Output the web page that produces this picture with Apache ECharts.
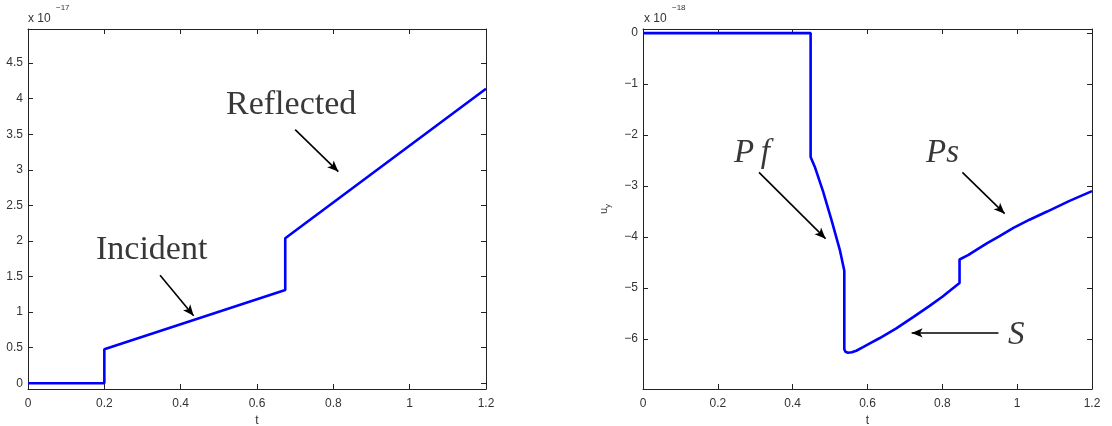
<!DOCTYPE html>
<html><head><meta charset="utf-8">
<script src="https://cdn.jsdelivr.net/npm/echarts@6/dist/echarts.min.js"></script>
<style>html,body{margin:0;padding:0;background:#fff}#c{width:1112px;height:426px}</style>
</head><body><div id="c"></div>
<script>
// ---- data ----
const xTicks = [0, 0.2, 0.4, 0.6, 0.8, 1, 1.2];
const leftYTicks = [0, 0.5, 1, 1.5, 2, 2.5, 3, 3.5, 4, 4.5];
const rightYTicks = [0, -1, -2, -3, -4, -5, -6];
const leftT = [0, 0.2, 0.2, 0.674, 0.674, 1.2];
const leftU = [0, 0, 0.48, 1.31, 2.04, 4.14];
const rightT = [0, 0.448, 0.448, 0.459, 0.481, 0.5035, 0.526, 0.538, 0.538, 0.541, 0.548, 0.558, 0.57, 0.588, 0.61, 0.633, 0.677, 0.722, 0.766, 0.8, 0.846, 0.846, 0.87, 0.891, 0.92, 0.953, 0.99, 1.033, 1.08, 1.14, 1.2];
const rightU = [0, 0, -2.43, -2.62, -3.1, -3.66, -4.25, -4.66, -6.2, -6.25, -6.27, -6.26, -6.23, -6.16, -6.07, -5.98, -5.79, -5.57, -5.35, -5.17, -4.9, -4.44, -4.35, -4.25, -4.12, -3.98, -3.82, -3.66, -3.5, -3.29, -3.1];
const leftExponent = '\u221217';
const rightExponent = '\u221218';
const xName = 't';
const rightYName = ['u', 'y'];
// annotations (data coordinates): [from, to]
const leftArrows = [[[0.346, 1.52], [0.434, 0.95]], [[0.70, 3.565], [0.813, 2.976]]];
const rightArrows = [[[0.31, -2.733], [0.488, -4.031]], [[0.8536, -2.733], [0.9666, -3.542]], [[0.95, -5.88], [0.718, -5.88]]];
const leftLabels = ['Incident', 'Reflected'];
const rightLabels = ['P\u2009f', 'Ps', 'S'];

// ---- chart ----
const AX = '#222';
const TXT = '#333';
const FONT = 'Liberation Sans';
const grids = [
  {left: 28, top: 29, width: 458, height: 360, outerBoundsMode: 'none', containLabel: false},
  {left: 643, top: 29, width: 449, height: 360, outerBoundsMode: 'none', containLabel: false}
];
const minus = v => (v < 0 ? '\u2212' + Math.abs(v) : String(v));

function xAxis(gi, pos) {
  const bottom = pos === 'bottom';
  return {
    type: 'value', gridIndex: gi, position: pos, min: 0, max: 1.2, interval: 0.2,
    axisLine: {show: true, onZero: false, lineStyle: {color: AX, width: 1}},
    axisTick: {show: true, inside: true, length: 5, customValues: xTicks, lineStyle: {color: AX}},
    axisLabel: {show: bottom, customValues: xTicks, color: TXT, fontFamily: FONT, fontSize: 12, margin: 9, formatter: v => minus(+(+v).toFixed(1))},
    splitLine: {show: false},
    name: bottom ? xName : '', nameLocation: 'middle', nameGap: 21,
    nameTextStyle: {color: TXT, fontFamily: FONT, fontSize: 12}
  };
}
function yAxis(gi, pos, min, max, ticks, name) {
  const left = pos === 'left';
  return {
    type: 'value', gridIndex: gi, position: pos, min: min, max: max,
    axisLine: {show: true, onZero: false, lineStyle: {color: AX, width: 1}},
    axisTick: {show: true, inside: true, length: 5, customValues: ticks, lineStyle: {color: AX}},
    axisLabel: {show: left, customValues: ticks, color: TXT, fontFamily: FONT, fontSize: 12, margin: 5, formatter: v => minus(v)},
    splitLine: {show: false},
    name: (left && name) ? '{u|' + name[0] + '}{s|' + name[1] + '}' : '',
    nameLocation: 'middle', nameRotate: 90, nameGap: 31,
    nameTextStyle: {color: TXT, fontFamily: FONT, rich: {
      u: {fontSize: 11, fontFamily: FONT, color: TXT, lineHeight: 14, verticalAlign: 'top'},
      s: {fontSize: 8, fontFamily: FONT, color: TXT, lineHeight: 8, verticalAlign: 'bottom'}
    }}
  };
}
function arrowLines(arr) {
  return {
    silent: true, animation: false, symbol: ['none', 'arrow'], symbolSize: [7, 11],
    label: {show: false},
    lineStyle: {color: '#000', width: 1.6, type: 'solid'},
    emphasis: {disabled: true},
    data: arr.map(a => [{coord: a[0]}, {coord: a[1]}])
  };
}
function zip(t, u) { return t.map((v, i) => [v, u[i]]); }

const serif = 'Liberation Serif';
function label(text, x, y, italic, size) {
  return {type: 'text', left: x, top: y, silent: true,
    style: {text: text, fill: '#383838', font: (italic ? 'italic ' : '') + size + 'px "' + serif + '"'}};
}
function expo(x, e) {
  return [
    {type: 'text', left: x, top: 13, silent: true, style: {text: 'x 10', fill: TXT, font: '12px "' + FONT + '"'}},
    {type: 'text', left: x + 28, top: 4, silent: true, style: {text: e, fill: TXT, font: '8px "' + FONT + '"'}}
  ];
}

const option = {
  animation: false,
  backgroundColor: '#fff',
  grid: grids,
  xAxis: [xAxis(0, 'bottom'), xAxis(0, 'top'), xAxis(1, 'bottom'), xAxis(1, 'top')],
  yAxis: [
    yAxis(0, 'left', -0.08, 4.98, leftYTicks, null),
    yAxis(0, 'right', -0.08, 4.98, leftYTicks, null),
    yAxis(1, 'left', -6.98, 0.08, rightYTicks, rightYName),
    yAxis(1, 'right', -6.98, 0.08, rightYTicks, null)
  ],
  series: [
    {type: 'line', xAxisIndex: 0, yAxisIndex: 0, data: zip(leftT, leftU), showSymbol: false, silent: true,
     lineStyle: {color: '#0000ff', width: 2.6}, markLine: arrowLines(leftArrows)},
    {type: 'line', xAxisIndex: 2, yAxisIndex: 2, data: zip(rightT, rightU), showSymbol: false, silent: true,
     lineStyle: {color: '#0000ff', width: 2.6}, markLine: arrowLines(rightArrows)}
  ],
  graphic: [].concat(
    expo(28, leftExponent),
    expo(644, rightExponent),
    [
      label(leftLabels[0], 96, 233, false, 34),
      label(leftLabels[1], 226, 88, false, 34),
      label(rightLabels[0], 734, 137, true, 33),
      label(rightLabels[1], 926, 137, true, 33),
      label(rightLabels[2], 1008, 319, true, 33)
    ]
  )
};
const chart = echarts.init(document.getElementById('c'), null, {renderer: 'canvas'});
chart.setOption(option);
</script>
</body></html>
